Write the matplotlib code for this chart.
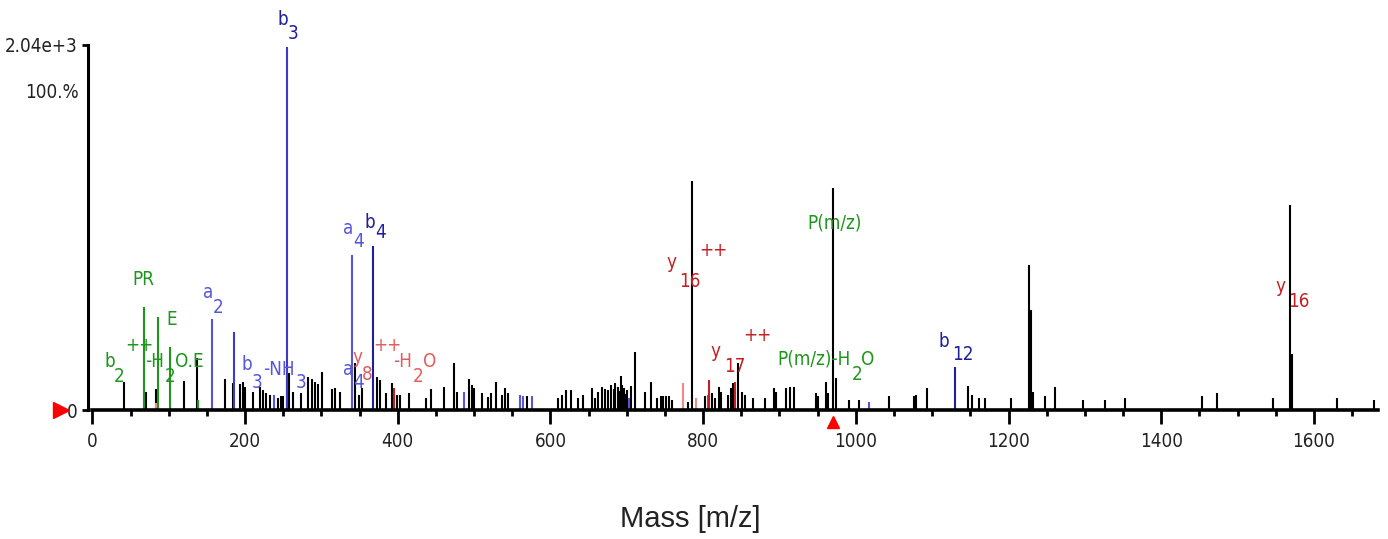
import matplotlib
matplotlib.use("Agg")
import matplotlib.pyplot as plt
from matplotlib import font_manager
from matplotlib.font_manager import FontProperties
from matplotlib.transforms import ScaledTranslation
from matplotlib.ticker import MultipleLocator

# ---------------- data ----------------
black_mz = [42, 70.5, 83, 120, 136.6, 173.7, 184, 193, 197.6, 200, 210.8, 219.5, 224, 228,
            232.6, 242.7, 247, 250, 254.5, 257.5, 263, 273, 282, 287, 291.5, 296, 301,
            313.4, 317.7, 324, 344, 349.6, 352.7, 373, 376.7, 384.5, 392, 399, 403, 415,
            437, 444, 460.5, 473.6, 477, 493, 496.7, 500, 510, 518.5, 521.7, 528.6, 536,
            540.4, 544.7, 568.8, 609.5, 614.7, 621, 627, 636.5, 643, 654, 659, 662, 667,
            671, 675, 679, 683.5, 685, 688, 690, 692.4, 694, 696.7, 698, 700, 706, 710.7,
            723.8, 731.6, 739, 744.8, 747.8, 751, 755, 759.5, 779.6, 785, 802, 811, 815.5,
            820.7, 824, 832, 836.5, 839.5, 846, 850.5, 854.7, 865.6, 881, 893, 896, 909,
            913.7, 919, 948, 951, 961, 964, 970, 973.5, 991.4, 1004.5, 1043.8, 1076,
            1078.7, 1092.7, 1147, 1151.7, 1161.6, 1169, 1202.8, 1226.7, 1229, 1231.6,
            1247.7, 1260.8, 1297.8, 1326, 1352.5, 1454, 1472.6, 1546, 1569, 1571, 1629.7,
            1678.6]
black_int = [157, 103, 117, 164, 290, 173, 150, 145, 158, 130, 102, 130, 112, 95,
             84, 67, 78, 78, 186, 207, 102, 93, 186, 173, 158, 145, 214,
             116, 121, 102, 261, 84, 121, 186, 168, 93, 149, 84, 84, 93,
             65, 116, 130, 261, 102, 172, 140, 121, 93, 74, 93, 158, 84,
             121, 93, 78, 65, 84, 112, 112, 65, 84, 121, 65, 100, 130,
             116, 110, 140, 116, 150, 130, 105, 192, 140, 121, 90, 112, 134, 326,
             102, 158, 65, 78, 78, 78, 78, 56, 47, 1280, 78, 93, 65,
             130, 102, 84, 121, 149, 261, 102, 84, 65, 65, 121, 102, 121,
             130, 130, 93, 78, 158, 93, 1241, 177, 56, 56, 78, 78,
             84, 121, 134, 84, 65, 65, 65, 810, 559, 102,
             78, 130, 56, 56, 65, 78, 93, 65, 1146, 313, 65,
             56]

bmid_mz = [255.5, 185.5]              # b3 and neighbour (blue)
bmid_int = [2030, 436]
blight_mz = [156.6, 339.4, 238, 486.7, 560, 563.6, 575.4, 702.8, 806, 1017.6]
blight_int = [509, 866, 84, 102, 84, 78, 78, 65, 84, 47]
bdark_mz = [367.5, 1130]              # b4, b12
bdark_int = [917, 240]
green_mz = [67.6, 85.9, 101.6, 138]
green_int = [576, 520, 352, 55]
red_mz = [395, 807.6, 842]
red_int = [121, 168, 158]
pink_mz = [774, 790.6, 83]
pink_int = [149, 65, 40]

precursor_mz = 970
x_max = 1684
y_max = 2040

# ---------------- fonts ----------------
cond = None
for f in font_manager.fontManager.ttflist:
    nm = f.name
    if (("Narrow" in nm or "Condensed" in nm or f.stretch in ("condensed", "semi-condensed"))
            and f.style == "normal" and f.weight in (400, "normal", "regular")
            and "Mono" not in nm and "Serif" not in nm):
        cond = f
        break


def fp(size):
    if cond is not None:
        return FontProperties(fname=cond.fname, size=size)
    return FontProperties(family="Liberation Sans", size=size * 0.93)


LFS = 13.5

C_DARK = "#1f1f9e"
C_LIGHT = "#5656dc"
C_MID = "#3a3acb"
C_GREEN = "#1e961e"
C_RED = "#c42024"
C_SALMON = "#e05d5d"
C_PINK = "#f08a8a"

fig = plt.figure(figsize=(13.88, 5.39), dpi=100)
ax = fig.add_axes([92.4 / 1388, (539 - 410) / 539, (1378 - 92.4) / 1388, 365 / 539])
ax.set_xlim(0, x_max)
ax.set_ylim(0, y_max)

lw = 1.5
ax.vlines(black_mz, 0, black_int, colors="black", linewidth=lw, capstyle="butt")
ax.vlines(bmid_mz, 0, bmid_int, colors=C_MID, linewidth=lw, capstyle="butt")
ax.vlines(blight_mz, 0, blight_int, colors=C_LIGHT, linewidth=lw, capstyle="butt")
ax.vlines(bdark_mz, 0, bdark_int, colors=C_DARK, linewidth=lw, capstyle="butt")
ax.vlines(green_mz, 0, green_int, colors=C_GREEN, linewidth=lw, capstyle="butt")
ax.vlines(red_mz, 0, red_int, colors=C_RED, linewidth=lw, capstyle="butt")
ax.vlines(pink_mz, 0, pink_int, colors=C_PINK, linewidth=lw, capstyle="butt")

# ---------------- axes styling ----------------
for s in ("top", "right"):
    ax.spines[s].set_visible(False)
ax.spines["bottom"].set_linewidth(2.6)
ax.spines["left"].set_linewidth(2.2)
ax.spines["left"].set_position(("outward", 3.5))

ax.xaxis.set_major_locator(MultipleLocator(200))
ax.xaxis.set_minor_locator(MultipleLocator(50))
ax.tick_params(axis="x", which="major", length=10, width=2, pad=6, direction="out")
ax.tick_params(axis="x", which="minor", length=4, width=2, direction="out")
ax.set_yticks([0, y_max])
ax.set_yticklabels(["0", "2.04e+3"])
ax.tick_params(axis="y", which="major", length=4, width=2, pad=3)
for lab in ax.get_xticklabels() + ax.get_yticklabels():
    lab.set_fontproperties(fp(LFS))
    lab.set_color("#222222")

ax.text(-0.011, 1775, "100.%", transform=ax.get_yaxis_transform(), ha="right", va="center",
        fontproperties=fp(LFS), color="#222222")

# red markers
ax.plot([0], [0], marker=">", color="red", markersize=11, clip_on=False,
        transform=ax.transData + ScaledTranslation(-0.31, 0, fig.dpi_scale_trans))
ax.plot([precursor_mz], [0], marker="^", color="red", markersize=9, clip_on=False,
        transform=ax.transData + ScaledTranslation(0, -0.12, fig.dpi_scale_trans))

fig.text(690 / 1388, 1 - 519 / 539, "Mass [m/z]", ha="center", va="center",
         fontsize=21, family="Liberation Sans", color="#222222")

# ---------------- peak labels ----------------
labels = [
    ("b", 243.1, 2152, C_DARK, "baseline"), ("3", 256.2, 2073, C_DARK, "baseline"),
    ("a", 328.2, 986, C_LIGHT, "baseline"), ("4", 341.3, 911, C_LIGHT, "baseline"),
    ("b", 356.8, 1017, C_DARK, "baseline"), ("4", 369.9, 961, C_DARK, "baseline"),
    ("a", 144.9, 626, C_LIGHT, "baseline"), ("2", 158.0, 542, C_LIGHT, "baseline"),
    ("PR", 51.9, 699, C_GREEN, "baseline"),
    ("E", 96.4, 475, C_GREEN, "baseline"),
    ("b", 15.2, 240, C_GREEN, "baseline"), ("2", 28.3, 156, C_GREEN, "baseline"),
    ("++", 42.7, 363, C_GREEN, "center"),
    ("-H", 68.9, 240, C_GREEN, "baseline"), ("2", 95.1, 156, C_GREEN, "baseline"),
    ("O.E", 108.2, 240, C_GREEN, "baseline"),
    ("b", 195.9, 224, C_LIGHT, "baseline"), ("3", 209.0, 123, C_LIGHT, "baseline"),
    ("-NH", 223.4, 196, C_LIGHT, "baseline"), ("3", 266.6, 123, C_LIGHT, "baseline"),
    ("a", 328.2, 196, C_LIGHT, "baseline"), ("4", 341.3, 123, C_LIGHT, "baseline"),
    ("y", 340.0, 265, C_SALMON, "baseline"), ("8", 353.1, 168, C_SALMON, "baseline"),
    ("++", 367.5, 363, C_SALMON, "center"),
    ("-H", 393.7, 240, C_SALMON, "baseline"), ("2", 419.9, 156, C_SALMON, "baseline"),
    ("O", 433.0, 240, C_SALMON, "baseline"),
    ("y", 752.6, 794, C_RED, "baseline"), ("16", 768.3, 687, C_RED, "baseline"),
    ("++", 794.5, 889, C_RED, "center"),
    ("y", 810.2, 296, C_RED, "baseline"), ("17", 827.2, 212, C_RED, "baseline"),
    ("++", 852.1, 419, C_RED, "center"),
    ("P(m/z)-H", 896.7, 252, C_GREEN, "baseline"), ("2", 994.9, 168, C_GREEN, "baseline"),
    ("O", 1006.7, 252, C_GREEN, "baseline"),
    ("b", 1108.8, 352, C_DARK, "baseline"), ("12", 1125.8, 279, C_DARK, "baseline"),
    ("y", 1550.2, 660, C_RED, "baseline"), ("16", 1566.0, 576, C_RED, "baseline"),
]
for txt, x, y, c, va in labels:
    ax.text(x, y, txt, color=c, fontproperties=fp(LFS), ha="left", va=va, clip_on=False)
ax.text(972.6, 1017, "P(m/z)", color=C_GREEN, fontproperties=fp(LFS), ha="center",
        va="baseline", clip_on=False)

fig.savefig("out.png", dpi=100, facecolor="white")
